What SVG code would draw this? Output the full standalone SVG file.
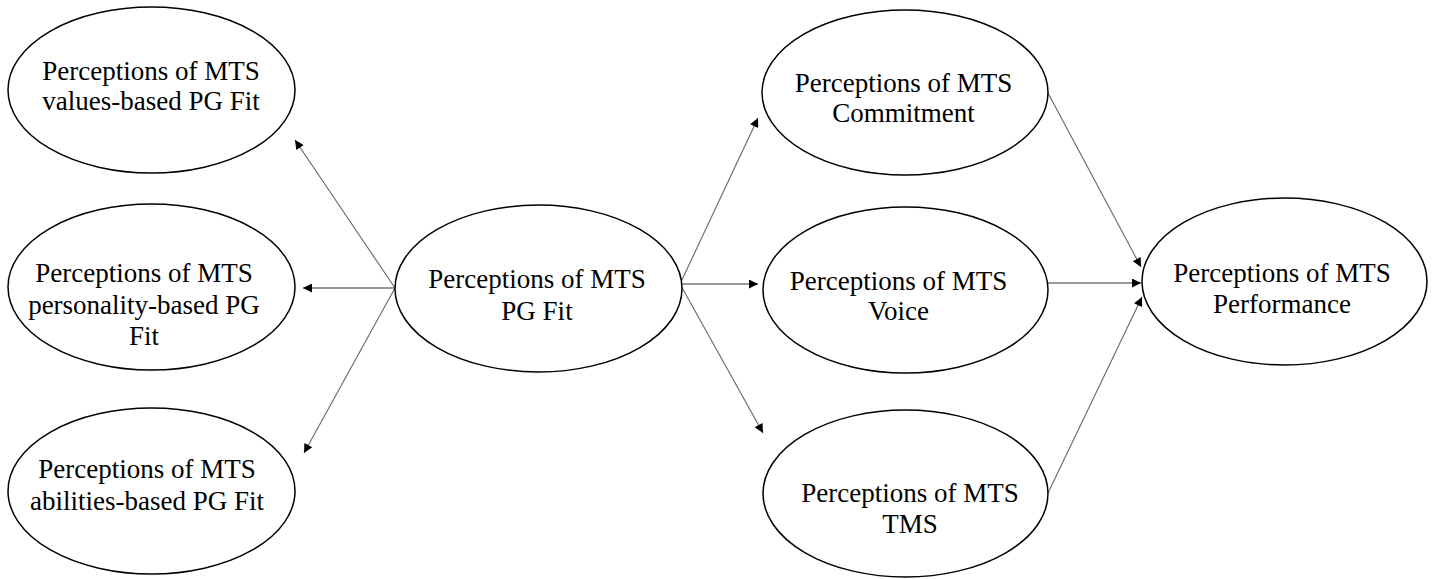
<svg xmlns="http://www.w3.org/2000/svg" width="1436" height="579" viewBox="0 0 1436 579">
<style>
.node ellipse{fill:#fff;stroke:#000;stroke-width:1.5}
.node text{font-family:"Liberation Serif","Times New Roman",serif;font-size:27px;fill:#000;text-anchor:middle}
.conn line{stroke:#666;stroke-width:1.1;fill:none;marker-end:url(#ah)}
.conn line.dark{stroke:#333}
</style>
<defs>
<marker id="ah" viewBox="0 0 10 10" refX="10" refY="5" markerWidth="11" markerHeight="9" markerUnits="userSpaceOnUse" orient="auto">
<path d="M0,0 L10,5 L0,10 z" fill="#000"/>
</marker>
</defs>
<rect width="1436" height="579" fill="#fff"/>
<g id="connectors" class="conn">
<line x1="395" y1="288" x2="295" y2="140"/>
<line x1="395" y1="288" x2="303" y2="288" class="dark"/>
<line x1="395" y1="288" x2="304" y2="453"/>
<line x1="680" y1="284" x2="758" y2="118"/>
<line x1="680" y1="284" x2="758" y2="284" class="dark"/>
<line x1="680" y1="284" x2="763" y2="433"/>
<line x1="1048" y1="93" x2="1141" y2="267"/>
<line x1="1048" y1="283" x2="1141" y2="283" class="dark"/>
<line x1="1048" y1="493" x2="1142" y2="297"/>
</g>
<g id="values" class="node">
<ellipse cx="151.5" cy="90" rx="143.5" ry="83"/>
<text x="151" y="80">Perceptions of MTS</text>
<text x="151" y="110">values-based PG Fit</text>
</g>
<g id="personality" class="node">
<ellipse cx="151.5" cy="287" rx="143.5" ry="83"/>
<text x="144" y="282">Perceptions of MTS</text>
<text x="144" y="314">personality-based PG</text>
<text x="144" y="345">Fit</text>
</g>
<g id="abilities" class="node">
<ellipse cx="151.5" cy="491" rx="143.5" ry="83"/>
<text x="147" y="478">Perceptions of MTS</text>
<text x="147" y="510">abilities-based PG Fit</text>
</g>
<g id="pgfit" class="node">
<ellipse cx="538.5" cy="288.5" rx="143.5" ry="83.5"/>
<text x="537" y="288">Perceptions of MTS</text>
<text x="537" y="320">PG Fit</text>
</g>
<g id="commitment" class="node">
<ellipse cx="905" cy="92.5" rx="143" ry="82.5"/>
<text x="903.5" y="92">Perceptions of MTS</text>
<text x="903.5" y="122">Commitment</text>
</g>
<g id="voice" class="node">
<ellipse cx="905.5" cy="290" rx="142.5" ry="83"/>
<text x="898.5" y="290">Perceptions of MTS</text>
<text x="898.5" y="320">Voice</text>
</g>
<g id="tms" class="node">
<ellipse cx="905.5" cy="493.5" rx="142.5" ry="83.5"/>
<text x="910" y="502">Perceptions of MTS</text>
<text x="910" y="533">TMS</text>
</g>
<g id="performance" class="node">
<ellipse cx="1284.5" cy="281.5" rx="142.5" ry="83.5"/>
<text x="1282" y="282">Perceptions of MTS</text>
<text x="1282" y="313">Performance</text>
</g>
</svg>
